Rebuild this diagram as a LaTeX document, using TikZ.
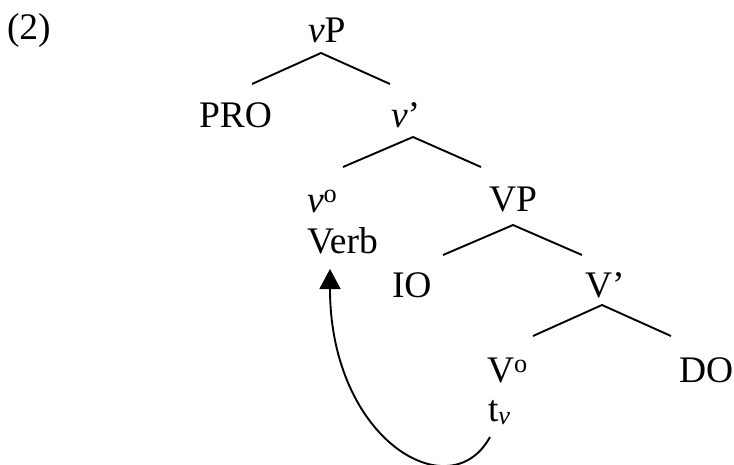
\documentclass[tikz,border=0pt]{standalone}
\usepackage{fontspec}
\setmainfont{Liberation Serif}
\usetikzlibrary{arrows.meta}
\begin{document}
\begin{tikzpicture}[x=1pt,y=-1pt,
  lab/.style={anchor=base west,inner sep=0pt,outer sep=0pt,font=\fontsize{37.5}{45}\selectfont},
  branch/.style={line width=1.9pt},
  movearrow/.style={line width=1.9pt,-{Triangle[length=20pt,width=21pt]}}]
\useasboundingbox (0,0) rectangle (734,464);
% labels
\node[lab] (ex)   at (7,39)    {(2)};
\node[lab] (vP)   at (308,42)  {\textit{v}P};
\node[lab] (PRO)  at (199,127) {PRO};
\node[lab] (vbar) at (391,127) {\textit{v}’};
\node[lab] (vo)   at (307,212) {\textit{v}\textsuperscript{o}};
\node[lab] (VP)   at (489,211) {VP};
\node[lab] (verb) at (307,253) {Verb};
\node[lab] (IO)   at (392,297) {IO};
\node[lab] (Vbar) at (585,297) {V’};
\node[lab] (Vo)   at (487,382) {V\textsuperscript{o}};
\node[lab] (DO)   at (679,382) {DO};
\node[lab] (tv)   at (488,421) {t\textsubscript{\textit{v}}};
% branch points
\coordinate (vP-a) at (321,53);  \coordinate (vP-l) at (252,84);  \coordinate (vP-r) at (390,84);
\coordinate (vb-a) at (413,137); \coordinate (vb-l) at (343,167); \coordinate (vb-r) at (481,167);
\coordinate (VP-a) at (513,225); \coordinate (VP-l) at (443,255); \coordinate (VP-r) at (582,255);
\coordinate (Vb-a) at (602,305); \coordinate (Vb-l) at (533,336); \coordinate (Vb-r) at (671,336);
\draw[branch] (vP-l) -- (vP-a) -- (vP-r);
\draw[branch] (vb-l) -- (vb-a) -- (vb-r);
\draw[branch] (VP-l) -- (VP-a) -- (VP-r);
\draw[branch] (Vb-l) -- (Vb-a) -- (Vb-r);
% movement arrow
\coordinate (tv-out) at (490,437);
\coordinate (verb-in) at (330,269);
\draw[movearrow] (tv-out) .. controls (450,510) and (330,440) .. (verb-in);
\end{tikzpicture}
\end{document}
